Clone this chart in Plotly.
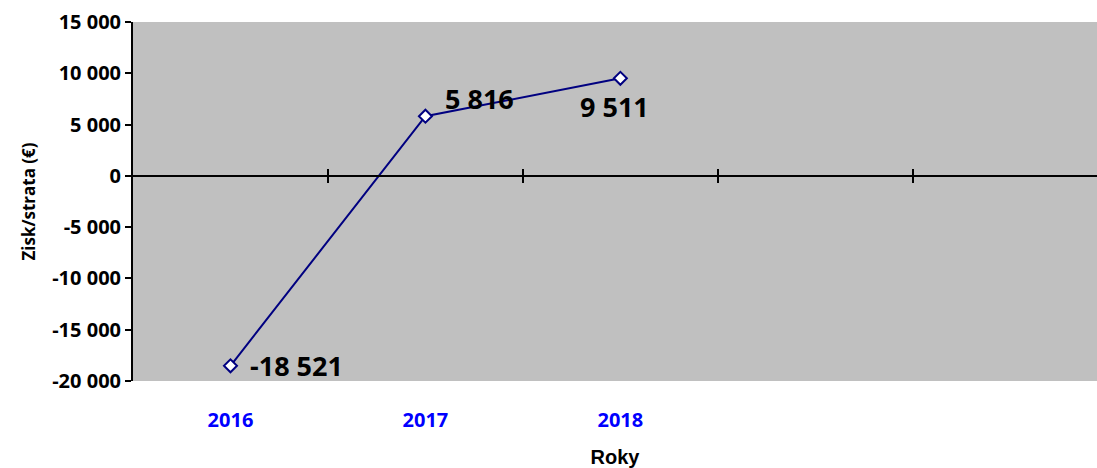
import plotly.graph_objects as go

years = ["2016", "2017", "2018"]
profit = [-18521, 5816, 9511]
label_text = ["-18 521", "5 816", "9 511"]
ytick_vals = [15000, 10000, 5000, 0, -5000, -10000, -15000, -20000]
ytick_text = ["15 000", "10 000", "5 000", "0", "-5 000", "-10 000", "-15 000", "-20 000"]

YMIN, YMAX = -20000, 15000
xpos = list(range(len(years)))
XRANGE = [-0.5, 4.445]
boundaries = [0.5, 1.5, 2.5, 3.5]
FONT = "Open Sans"

fig = go.Figure()
fig.add_trace(go.Scatter(
    x=xpos, y=profit, mode="lines+markers",
    line=dict(color="#000080", width=2),
    marker=dict(symbol="diamond", size=10, color="white",
                line=dict(color="#000080", width=2)),
    showlegend=False, hoverinfo="skip",
))
# invisible traces to instantiate the crossing category axis at y=0
for ax in ["x2", "x3"]:
    fig.add_trace(go.Scatter(x=xpos, y=profit, xaxis=ax, mode="lines",
                             opacity=0, showlegend=False, hoverinfo="skip"))

# data labels
offsets = [(66, 0), (54, 18), (-6, -28)]
for i, (v, t) in enumerate(zip(profit, label_text)):
    dx, dy = offsets[i]
    fig.add_annotation(x=xpos[i], y=v, text="<b>%s</b>" % t, showarrow=False,
                       xshift=dx, yshift=dy,
                       font=dict(family=FONT, size=27, color="black"))

zero_pos = (0 - YMIN) / (YMAX - YMIN)
axis_common = dict(range=XRANGE, showgrid=False, zeroline=False,
                   tickvals=boundaries, showticklabels=False,
                   showline=True, linecolor="black", linewidth=2,
                   tickwidth=2, tickcolor="black", ticklen=6,
                   overlaying="x", anchor="free", position=zero_pos)

fig.update_layout(
    width=1097, height=468,
    margin=dict(l=133, r=0, t=22, b=87),
    paper_bgcolor="white", plot_bgcolor="#C0C0C0",
    xaxis=dict(range=XRANGE, tickvals=xpos, ticktext=years,
               showgrid=False, zeroline=False, showline=False, ticks="",
               ticklabelstandoff=25,
               tickfont=dict(family=FONT, size=20, color="#0000FF", weight="bold"),
               title=dict(text="<b>Roky</b>", standoff=17,
                          font=dict(family="Liberation Sans", size=20, color="black"))),
    xaxis2=dict(ticks="outside", **axis_common),
    xaxis3=dict(ticks="inside", **axis_common),
    yaxis=dict(range=[YMIN, YMAX], tickvals=ytick_vals, ticktext=ytick_text,
               showgrid=False, zeroline=False, showline=True, linecolor="black",
               linewidth=2, ticks="outside", ticklen=6, tickwidth=2, tickcolor="black",
               tickfont=dict(family=FONT, size=20, color="black", weight="bold"),
               title=dict(text="<b>Zisk/strata (€)</b>", standoff=12,
                          font=dict(family=FONT, size=17, color="black"))),
)

fig.write_html("out.html")
